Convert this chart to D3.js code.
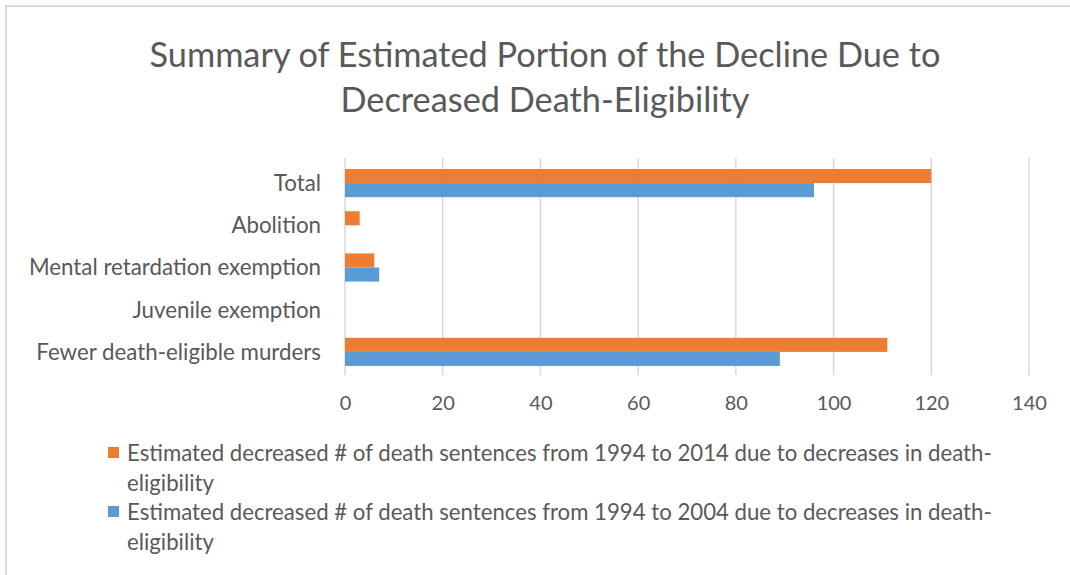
<!DOCTYPE html>
<html><head><meta charset="utf-8">
<script src="https://cdn.jsdelivr.net/npm/d3@7"></script>
<style>body{margin:0;background:#fff;overflow:hidden;} svg{display:block;font-family:Lato, "Open Sans", sans-serif;}</style>
</head><body>
<svg id="c" width="1070" height="575"></svg>
<script>
const categories = ["Total","Abolition","Mental retardation exemption","Juvenile exemption","Fewer death-eligible murders"];
const series2014 = [120, 3, 6, 0, 111];
const series2004 = [96, 0, 7, 0, 89];
const seriesNames = ["Estimated decreased # of death sentences from 1994 to 2014 due to decreases in death-eligibility",
                     "Estimated decreased # of death sentences from 1994 to 2004 due to decreases in death-eligibility"];
const xTicks = [0,20,40,60,80,100,120,140];
const titleLines = ["Summary of Estimated Portion of the Decline Due to","Decreased Death-Eligibility"];

const svg = d3.select("#c");
const textColor = "#595959";
svg.append("rect").attr("x",6).attr("y",6).attr("width",1120).attr("height",620)
  .attr("fill","#fff").attr("stroke","#d9d9d9").attr("stroke-width",2);

svg.selectAll("text.title").data(titleLines).join("text").attr("class","title")
  .attr("x",545).attr("y",(d,i)=>67+i*45).attr("text-anchor","middle")
  .attr("font-size",34.3).attr("fill",textColor).text(d=>d);

const x = d3.scaleLinear().domain([0,140]).range([345,1029]);
const y = d3.scaleBand().domain(categories).range([162,373]);
const inner = d3.scaleBand().domain([0,1]).range([0,y.bandwidth()]).paddingOuter(0.5).paddingInner(0);

// gridlines
svg.append("g").selectAll("line").data(xTicks).join("line")
  .attr("x1",d=>x(d)).attr("x2",d=>x(d)).attr("y1",158).attr("y2",375)
  .attr("stroke","#d9d9d9").attr("stroke-width",1.5);

const colors = ["#ED7D31","#5B9BD5"];
const data = [series2014, series2004];
data.forEach((s,si)=>{
  svg.append("g").selectAll("rect").data(s).join("rect")
    .attr("x",x(0)).attr("y",(d,i)=>y(categories[i])+inner(si))
    .attr("width",d=>x(d)-x(0)).attr("height",inner.bandwidth())
    .attr("fill",colors[si]);
});

// category labels
svg.append("g").selectAll("text").data(categories).join("text")
  .attr("x",321).attr("y",d=>y(d)+y.bandwidth()/2).attr("dy","0.35em")
  .attr("text-anchor","end").attr("font-size",22.3).attr("fill",textColor).text(d=>d);

// x axis labels
const ax = svg.append("g").attr("transform","translate(0,375)")
  .call(d3.axisBottom(x).tickValues(xTicks).tickSize(0).tickPadding(21));
ax.select(".domain").remove();
ax.selectAll("text").attr("font-size",20).attr("fill",textColor).attr("font-family","Lato, 'Open Sans', sans-serif");

// legend
const legY = [453, 512];
seriesNames.forEach((n,i)=>{
  svg.append("rect").attr("x",108).attr("y",legY[i]-6).attr("width",11).attr("height",11).attr("fill",colors[i]);
  const idx = n.lastIndexOf("death-")+6;
  const t = svg.append("text").attr("x",127).attr("y",legY[i]).attr("font-size",22.2).attr("fill",textColor);
  t.append("tspan").attr("x",127).attr("dy","0.35em").text(n.slice(0,idx));
  t.append("tspan").attr("x",127).attr("dy",30).text(n.slice(idx));
});
</script>
</body></html>
